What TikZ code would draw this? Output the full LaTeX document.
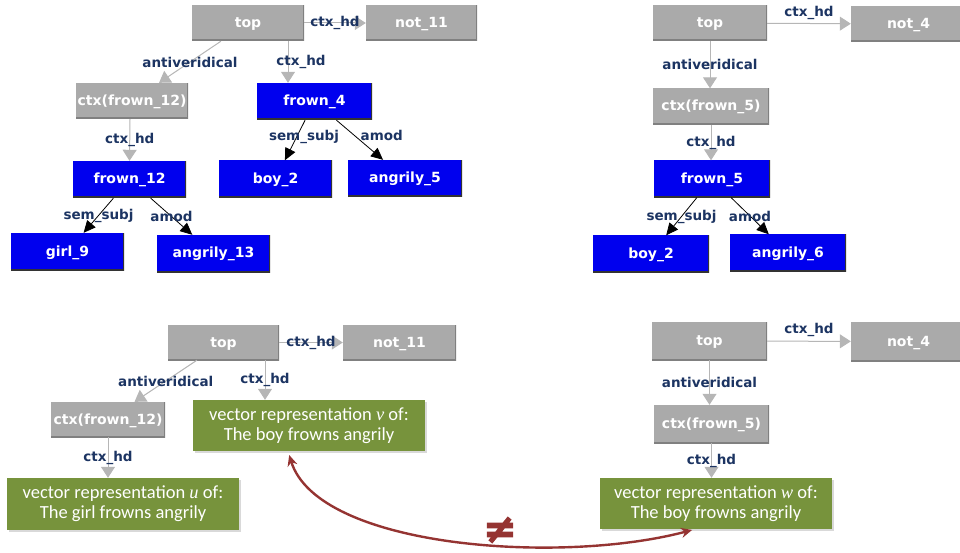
\documentclass[tikz,border=0pt]{standalone}
\usepackage{fontspec}
\setmainfont{DejaVu Sans}
\newfontfamily\vecfont{Carlito}
\newfontfamily\varfont{Liberation Serif}
\newfontfamily\neqfont[FakeBold=3]{DejaVu Sans Bold}
\usetikzlibrary{arrows.meta}
\usetikzlibrary{calc}
\usetikzlibrary{shadows}

\definecolor{ctxgray}{RGB}{170,170,170}
\definecolor{edgegray}{RGB}{182,182,182}
\definecolor{wordblue}{RGB}{0,0,238}
\definecolor{lblnavy}{RGB}{28,52,98}
\definecolor{vecgreen}{RGB}{119,147,60}
\definecolor{neqred}{RGB}{149,52,50}

\tikzset{
  % raised edge on the right and bottom of a box
  bevel/.style={path picture={
      \draw[line width=3pt, #1]
        (path picture bounding box.north east) --
        (path picture bounding box.south east) --
        (path picture bounding box.south west);}},
  ctxbox/.style={fill=ctxgray, text=white, bevel=black!50,
    font=\bfseries\fontsize{14}{16}\selectfont,
    text height=11pt, text depth=2pt,
    minimum height=36pt, inner sep=0pt},
  wordbox/.style={fill=wordblue, text=white, bevel=black!80,
    font=\bfseries\fontsize{14}{16}\selectfont,
    text height=11pt, text depth=2pt,
    minimum height=37pt, inner sep=0pt},
  vecbox/.style={fill=vecgreen, text=white, align=center,
    font=\vecfont\fontsize{18.5}{20}\selectfont,
    minimum width=232pt, minimum height=51pt, inner sep=0pt,
    drop shadow={shadow xshift=1.5pt, shadow yshift=-2pt, opacity=0.3}},
  ctxedge/.style={draw=edgegray, line width=1pt,
    -{Triangle[width=14pt, length=11pt, fill=edgegray]}},
  depedge/.style={draw=black, line width=0.8pt,
    -{Triangle[width=11pt, length=12pt]}},
  lbl/.style={text=lblnavy, font=\bfseries\fontsize{13.5}{15}\selectfont,
    inner sep=1pt},
  vecarrow/.style={draw=neqred, line width=2.4pt,
    {Stealth[length=11pt, width=10pt]}-{Stealth[length=11pt, width=10pt]}},
}

\begin{document}
\begin{tikzpicture}[x=1pt, y=-1pt]
  \useasboundingbox (0,0) rectangle (960,553);

  % Negated sentence, first tree
  \node[ctxbox, minimum width=112pt] (top1) at (248,23) {top};
  \node[ctxbox, minimum width=111pt] (not11) at (421.5,23) {not\_11};
  \node[ctxbox, minimum width=112pt] (ctxf12) at (132,101) {ctx(frown\_12)};
  \node[wordbox, minimum width=115pt] (frown4) at (314.5,101.5) {frown\_4};
  \node[wordbox, minimum width=113pt] (frown12) at (129.5,179.5) {frown\_12};
  \node[wordbox, minimum width=113pt] (boy2a) at (275.5,179) {boy\_2};
  \node[wordbox, minimum width=114pt] (angr5) at (405,178.5) {angrily\_5};
  \node[wordbox, minimum width=113pt] (girl9) at (67.5,251.5) {girl\_9};
  \node[wordbox, minimum width=113pt] (angr13) at (213.5,253.5) {angrily\_13};

  \draw[ctxedge] (top1) -- node[lbl] {ctx\_hd} (not11);
  \draw[ctxedge] (top1) -- node[lbl] {antiveridical} (ctxf12);
  \draw[ctxedge] ([xshift=40pt]top1.south) -- node[lbl, xshift=13pt] {ctx\_hd} ([xshift=-26.5pt]frown4.north);
  \draw[ctxedge] ([xshift=-2pt]ctxf12.south) -- node[lbl] {ctx\_hd} (frown12.north);
  \draw[depedge] (frown4) -- node[lbl, xshift=9pt, yshift=3pt] {sem\_subj} (boy2a);
  \draw[depedge] (frown4) -- node[lbl, xshift=22pt, yshift=5pt] {amod} (angr5);
  \draw[depedge] (frown12) -- node[lbl] {sem\_subj} (girl9);
  \draw[depedge] (frown12) -- node[lbl] {amod} (angr13);

  % Negated sentence, second tree
  \node[ctxbox, minimum width=114pt] (top2) at (710,23) {top};
  \node[ctxbox, minimum width=115pt] (not4) at (908.5,24) {not\_4};
  \node[ctxbox, minimum width=116pt] (ctxf5) at (711,106.5) {ctx(frown\_5)};
  \node[wordbox, minimum width=116pt] (frown5) at (712,179) {frown\_5};
  \node[wordbox, minimum width=116pt] (boy2b) at (651,254) {boy\_2};
  \node[wordbox, minimum width=116pt] (angr6) at (788,253) {angrily\_6};

  \draw[ctxedge] (top2) -- node[lbl, yshift=11pt] {ctx\_hd} (not4);
  \draw[ctxedge] (top2) -- node[lbl] {antiveridical} (top2 |- ctxf5.north);
  \draw[ctxedge] (ctxf5) -- node[lbl] {ctx\_hd} (ctxf5 |- frown5.north);
  \draw[depedge] (frown5) -- node[lbl] {sem\_subj} (boy2b);
  \draw[depedge] (frown5) -- node[lbl] {amod} (angr6);

  % Same trees with the inner context collapsed to vectors
  \node[ctxbox, minimum width=111pt, minimum height=35pt] (top3) at (223.5,342.5) {top};
  \node[ctxbox, minimum width=113pt, minimum height=35pt] (not11b) at (399.5,342.5) {not\_11};
  \node[ctxbox, minimum width=114pt, minimum height=35pt] (ctxf12b) at (108,419.5) {ctx(frown\_12)};
  \node[vecbox] (vecv) at (309,425.5)
    {vector representation {\varfont\itshape v} of:\\The boy frowns angrily};
  \node[vecbox, minimum height=52pt] (vecu) at (123,504)
    {vector representation {\varfont\itshape u} of:\\The girl frowns angrily};

  \draw[ctxedge] (top3) -- node[lbl] {ctx\_hd} (not11b);
  \draw[ctxedge] (top3) -- node[lbl] {antiveridical} (ctxf12b);
  \draw[ctxedge] ([xshift=41.5pt]top3.south) -- node[lbl] {ctx\_hd} ([xshift=-44pt]vecv.north);
  \draw[ctxedge] (ctxf12b) -- node[lbl] {ctx\_hd} (ctxf12b |- vecu.north);

  \node[ctxbox, minimum width=115pt, minimum height=38pt] (top4) at (709.5,341) {top};
  \node[ctxbox, minimum width=115pt, minimum height=39pt] (not4b) at (908.5,341.5) {not\_4};
  \node[ctxbox, minimum width=115pt, minimum height=38pt] (ctxf5b) at (711.5,424) {ctx(frown\_5)};
  \node[vecbox] (vecw) at (716,503.5)
    {vector representation {\varfont\itshape w} of:\\The boy frowns angrily};

  \draw[ctxedge] (top4) -- node[lbl, yshift=11pt] {ctx\_hd} (not4b);
  \draw[ctxedge] (top4) -- node[lbl] {antiveridical} (top4 |- ctxf5b.north);
  \draw[ctxedge] (ctxf5b) -- node[lbl] {ctx\_hd} (ctxf5b |- vecw.north);

  % u and v differ
  \draw[vecarrow, shorten <=4pt, shorten >=3pt]
    ([xshift=-21pt]vecv.south) .. controls (318,548) and (560,565) .. ([xshift=-21pt]vecw.south);
  \node[text=neqred, font=\neqfont\fontsize{40}{40}\selectfont, inner sep=0pt] (neq) at (500,530) {≠};
\end{tikzpicture}
\end{document}
